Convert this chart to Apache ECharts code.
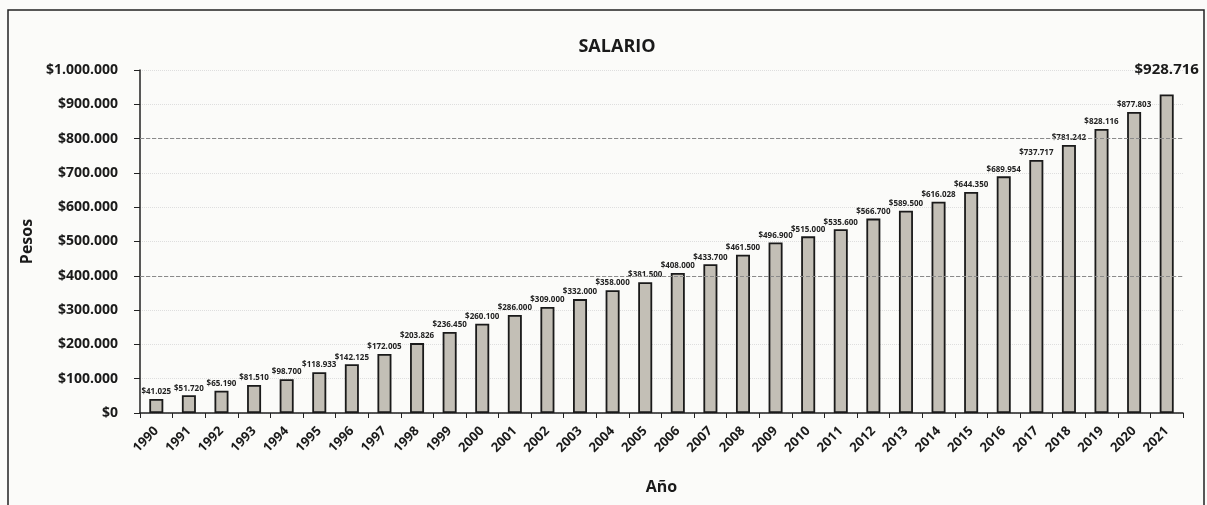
<!DOCTYPE html>
<html><head><meta charset="utf-8">
<script src="https://cdn.jsdelivr.net/npm/echarts@6/dist/echarts.min.js"></script>
<style>html,body{margin:0;padding:0;background:#fbfbf9;}#c{width:1207px;height:505px;}</style>
</head><body><div id="c"></div>
<script>
const years = ['1990','1991','1992','1993','1994','1995','1996','1997','1998','1999','2000','2001','2002','2003','2004','2005','2006','2007','2008','2009','2010','2011','2012','2013','2014','2015','2016','2017','2018','2019','2020','2021'];
const salario = [41025,51720,65190,81510,98700,118933,142125,172005,203826,236450,260100,286000,309000,332000,358000,381500,408000,433700,461500,496900,515000,535600,566700,589500,616028,644350,689954,737717,781242,828116,877803,928716];
const yTicks = [0,100000,200000,300000,400000,500000,600000,700000,800000,900000,1000000];
const markedLines = [400000, 800000];

function fmt(v){ return '$' + String(Math.round(v)).replace(/\B(?=(\d{3})+(?!\d))/g, '.'); }
const font = '"Open Sans", "Liberation Sans", sans-serif';
const last = salario.length - 1;

const chart = echarts.init(document.getElementById('c'));
chart.setOption({
  backgroundColor: '#fbfbf9',
  animation: false,
  title: { text: 'SALARIO', left: 612, top: 33, textAlign: 'center',
    textStyle: { fontFamily: font, fontWeight: 'bold', fontSize: 18, color: '#1a1a1a' } },
  graphic: [{ type: 'rect', shape: { x: 8, y: 10, width: 1196, height: 520 },
    style: { fill: 'none', stroke: '#222', lineWidth: 1.5 }, silent: true }],
  grid: { left: 140, right: 24, top: 70, bottom: 92 },
  xAxis: {
    type: 'category', data: years,
    name: 'Año', nameLocation: 'middle', nameGap: 66,
    nameTextStyle: { fontFamily: font, fontWeight: 'bold', fontSize: 16, color: '#1a1a1a' },
    axisLine: { lineStyle: { color: '#222', width: 1.5 } },
    axisTick: { show: true, alignWithLabel: false, length: 5, lineStyle: { color: '#222' } },
    axisLabel: { rotate: 45, fontFamily: font, fontWeight: 'bold',
      fontSize: 13, color: '#1a1a1a', margin: 16 }
  },
  yAxis: {
    type: 'value', min: 0, max: 1000000, interval: 100000,
    name: 'Pesos', nameLocation: 'middle', nameGap: 105, nameRotate: 90,
    nameTextStyle: { fontFamily: font, fontWeight: 'bold', fontSize: 16, color: '#1a1a1a' },
    axisLine: { show: true, lineStyle: { color: '#222', width: 1.5 } },
    axisTick: { show: true, length: 6, lineStyle: { color: '#222' } },
    axisLabel: { fontFamily: font, fontWeight: 'bold', fontSize: 14, color: '#1a1a1a', margin: 22,
      formatter: v => yTicks.includes(v) ? fmt(v) : '' },
    splitLine: { show: true, lineStyle: { color: '#dedede', type: 'dotted', width: 1 } }
  },
  series: [{
    type: 'bar', data: salario.map((v, i) => i === last ? {
        value: v, label: { fontSize: 15, offset: [0, -14], color: '#1a1a1a' } } : v),
    barWidth: '43%',
    itemStyle: { color: '#c3bfb6', borderColor: '#1a1a1a', borderWidth: 1.8 },
    label: { show: true, position: 'top', distance: 3, formatter: p => fmt(p.value),
      fontFamily: font, fontWeight: 'bold', fontSize: 8, color: '#222' },
    markLine: { silent: true, symbol: 'none', label: { show: false },
      lineStyle: { color: '#8a8a8a', type: 'dashed', width: 1 },
      data: markedLines.map(v => ({ yAxis: v })) }
  }]
});
</script>
</body></html>
